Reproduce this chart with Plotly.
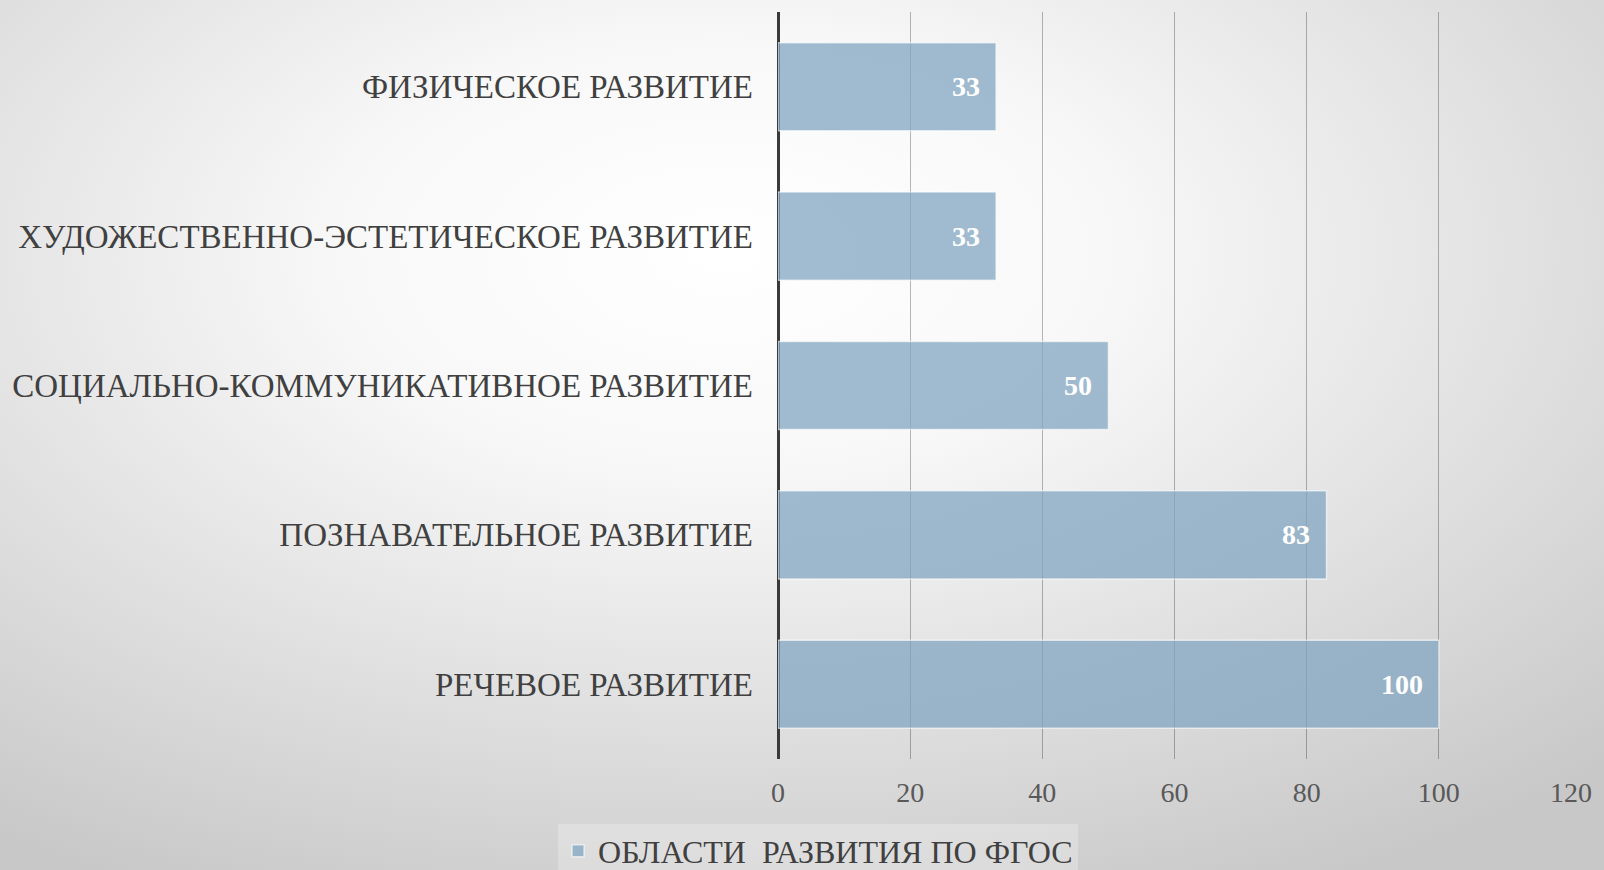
import base64
import plotly.graph_objects as go

categories = [
    "РЕЧЕВОЕ РАЗВИТИЕ",
    "ПОЗНАВАТЕЛЬНОЕ РАЗВИТИЕ",
    "СОЦИАЛЬНО-КОММУНИКАТИВНОЕ РАЗВИТИЕ",
    "ХУДОЖЕСТВЕННО-ЭСТЕТИЧЕСКОЕ РАЗВИТИЕ",
    "ФИЗИЧЕСКОЕ РАЗВИТИЕ",
]
values = [100, 83, 50, 33, 33]
series_name = "ОБЛАСТИ  РАЗВИТИЯ ПО ФГОС"
x_ticks = [0, 20, 40, 60, 80, 100, 120]

W, H = 1604, 870
ML, MR, MT, MB = 773, 28, 12, 111
PW, PH = W - ML - MR, H - MT - MB

svg = (
    f'<svg xmlns="http://www.w3.org/2000/svg" width="{W}" height="{H}" viewBox="0 0 {W} {H}" preserveAspectRatio="none">'
    '<defs><radialGradient id="g" cx="0.45" cy="0.3" r="0.78" gradientUnits="objectBoundingBox">'
    '<stop offset="0" stop-color="#ffffff"/><stop offset="0.3" stop-color="#f8f8f8"/>'
    '<stop offset="1" stop-color="#c8c8c8"/></radialGradient></defs>'
    f'<rect width="{W}" height="{H}" fill="url(#g)"/></svg>'
)
src = "data:image/svg+xml;base64," + base64.b64encode(svg.encode()).decode()

FONT = "Liberation Serif, Times New Roman, serif"

fig = go.Figure()
fig.add_trace(go.Bar(
    y=categories, x=values, orientation="h", name=series_name,
    marker=dict(color="rgba(130,165,192,0.75)", line=dict(color="rgba(255,255,255,0.6)", width=1.5)),
    showlegend=True, hoverinfo="x+y",
))

for c, v in zip(categories, values):
    fig.add_annotation(x=v, y=c, text=f"<b>{v}</b>", showarrow=False, xanchor="right",
                       xshift=-14, font=dict(family=FONT, size=28, color="white"))

pad = 20
fig.update_layout(
    width=W, height=H,
    margin=dict(l=ML, r=MR, t=MT, b=MB),
    paper_bgcolor="#dadada", plot_bgcolor="rgba(0,0,0,0)",
    bargap=0.41,
    font=dict(family=FONT, color="#404040"),
    images=[dict(source=src, xref="paper", yref="paper",
                 x=-(ML + pad) / PW, y=1 + (MT + pad) / PH,
                 sizex=(W + 2 * pad) / PW, sizey=(H + 2 * pad) / PH,
                 xanchor="left", yanchor="top", sizing="stretch", layer="below")],
    xaxis=dict(range=[0, 120], tickvals=x_ticks, showgrid=True,
               gridcolor="rgba(0,0,0,0.28)", gridwidth=1,
               zeroline=True, zerolinecolor="#3a3a3a", zerolinewidth=3,
               tickfont=dict(family=FONT, size=28, color="#595959"),
               ticks="", ticklabelstandoff=14, fixedrange=True),
    yaxis=dict(tickfont=dict(family=FONT, size=33, color="#404040"),
               ticks="", ticklabelstandoff=24, showgrid=False, fixedrange=True),
    legend=dict(orientation="h", xref="container", yref="container",
                x=0.51, y=1 - 851 / H, xanchor="center", yanchor="middle",
                bgcolor="rgba(255,255,255,0.25)",
                font=dict(family=FONT, size=32, color="#404040")),
)

fig.write_html("out.html", config={"displayModeBar": False},
               post_script="document.body.style.margin='0';document.body.style.overflow='hidden';")
